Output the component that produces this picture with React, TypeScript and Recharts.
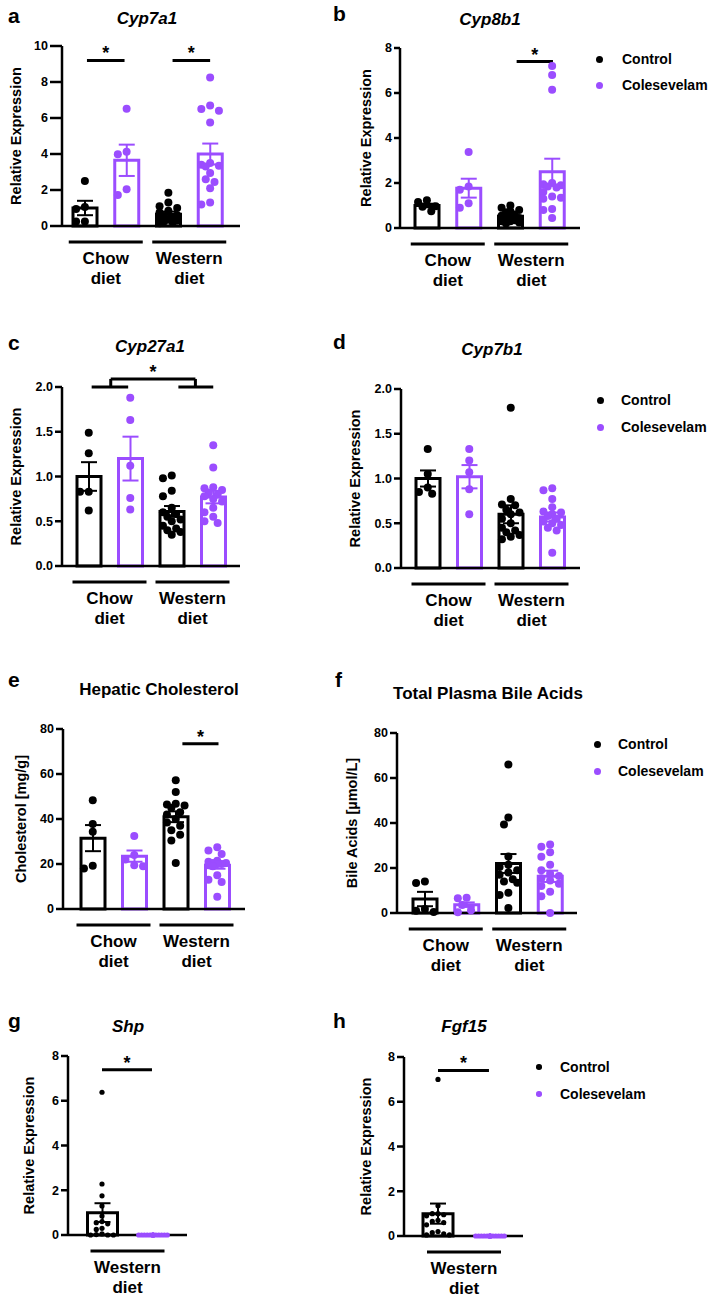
import React from "react";
import {
  ComposedChart,
  Bar,
  Cell,
  ErrorBar,
  Scatter,
  XAxis,
  YAxis,
  ReferenceLine,
  Legend,
} from "recharts";

const INK = "#000000";
const PURPLE = "#9B4DFF";
const FONT = '"Liberation Sans", Arial, Helvetica, sans-serif';

const treatments = ["Control", "Colesevelam"];
const dietGroups = ["Chow diet", "Western diet"];
const westernGroup = ["Western diet"];

const ticks10 = [0, 2, 4, 6, 8, 10];
const ticks8 = [0, 2, 4, 6, 8];
const ticks2 = [0, 0.5, 1, 1.5, 2];
const ticks80 = [0, 20, 40, 60, 80];

// order of groups: chow control, chow colesevelam, western control, western colesevelam
const cyp7a1Means = [1.0, 3.65, 0.65, 4.0];
const cyp7a1Sems = [0.4, 0.87, 0.15, 0.58];
const cyp7a1Points = [
  [2.5, 1.05, 0.95, 0.25, 0.25],
  [6.52, 4.13, 3.98, 2.04, 1.72],
  [1.85, 1.3, 1.1, 1.0, 0.85, 0.75, 0.6, 0.55, 0.5, 0.4, 0.35, 0.3, 0.25, 0.2, 0.15],
  [8.25, 6.7, 6.5, 6.4, 5.75, 3.5, 3.4, 3.35, 3.3, 2.95, 2.6, 2.45, 2.1, 1.3, 1.2],
];

const cyp8b1Means = [1.0, 1.77, 0.52, 2.5];
const cyp8b1Sems = [0.08, 0.42, 0.06, 0.58];
const cyp8b1Points = [
  [1.23, 1.16, 0.97, 0.94, 0.74],
  [3.38, 1.85, 1.7, 1.1, 0.9],
  [1.0, 0.9, 0.8, 0.75, 0.7, 0.6, 0.55, 0.5, 0.45, 0.4, 0.35, 0.3, 0.3, 0.25, 0.2],
  [7.2, 6.8, 6.15, 2.0, 1.95, 1.9, 1.85, 1.8, 1.6, 1.4, 1.35, 1.3, 0.85, 0.8, 0.45],
];

const cyp27a1Means = [1.0, 1.2, 0.61, 0.77];
const cyp27a1Sems = [0.16, 0.245, 0.06, 0.07];
const cyp27a1Points = [
  [1.49, 1.26, 0.83, 0.83, 0.62],
  [1.88, 1.63, 1.12, 0.76, 0.63],
  [1.01, 0.98, 0.84, 0.78, 0.65, 0.6, 0.58, 0.55, 0.52, 0.5, 0.45, 0.42, 0.4, 0.38, 0.35],
  [1.35, 1.1, 0.88, 0.87, 0.85, 0.82, 0.8, 0.78, 0.75, 0.72, 0.65, 0.6, 0.55, 0.5, 0.48],
];

const cyp7b1Means = [1.0, 1.02, 0.6, 0.57];
const cyp7b1Sems = [0.09, 0.13, 0.1, 0.05];
const cyp7b1Points = [
  [1.33, 1.05, 0.9, 0.85, 0.83],
  [1.33, 1.2, 1.07, 0.88, 0.6],
  [1.79, 0.77, 0.71, 0.7, 0.65, 0.62, 0.6, 0.55, 0.5, 0.45, 0.42, 0.4, 0.37, 0.35, 0.32],
  [0.89, 0.87, 0.77, 0.68, 0.63, 0.62, 0.6, 0.58, 0.55, 0.52, 0.5, 0.48, 0.45, 0.42, 0.17],
];

const cholMeans = [31.5, 23.5, 41.0, 19.5];
const cholSems = [5.8, 2.5, 2.4, 1.6];
const cholPoints = [
  [48.3, 37.8, 34.3, 19.2, 18.0],
  [32.4, 24.0, 22.0, 19.5, 19.0],
  [57.2, 52.0, 46.8, 46.5, 46.0, 45.0, 43.0, 42.0, 40.0, 38.5, 37.0, 35.0, 33.0, 30.5, 20.5],
  [27.5, 26.0, 24.5, 21.5, 21.0, 20.5, 20.5, 20.0, 20.0, 19.5, 19.0, 15.0, 13.0, 12.0, 5.5],
];

const bileMeans = [6.2, 3.7, 22.0, 16.3];
const bileSems = [3.2, 1.0, 4.2, 2.5];
const bilePoints = [
  [14.0, 13.3, 1.8, 1.0, 0.5],
  [6.8, 6.6, 3.6, 1.2, 0.3],
  [66.0, 42.4, 39.3, 25.1, 21.5, 20.5, 19.0, 18.0, 17.0, 15.0, 14.0, 13.5, 9.0, 8.0, 2.2],
  [30.5, 29.5, 27.0, 25.0, 21.5, 19.0, 17.5, 16.5, 15.5, 14.5, 13.0, 12.0, 9.5, 7.5, 0.0],
];

// western diet only: control, colesevelam
const shpMeans = [1.0, 0.0];
const shpSems = [0.42, 0];
const shpPoints = [
  [6.38, 2.28, 1.75, 1.3, 0.85, 0.6, 0.55, 0.5, 0.3, 0.25, 0.05, 0.02, 0, 0, 0],
  [0, 0, 0, 0, 0, 0, 0, 0, 0, 0, 0, 0, 0, 0, 0],
];

const fgf15Means = [1.0, 0.0];
const fgf15Sems = [0.45, 0];
const fgf15Points = [
  [7.0, 1.35, 1.0, 1.0, 0.95, 0.9, 0.7, 0.65, 0.6, 0.5, 0.2, 0.15, 0.1, 0.05, 0.05],
  [0, 0, 0, 0, 0, 0, 0, 0, 0, 0, 0, 0, 0, 0, 0],
];

// significance marks: [x1, y1, x2, y2, star]
type Seg = [number, number, number, number, boolean];
const cyp7a1Sig: Seg[] = [
  [0.55, 9.2, 1.45, 9.2, true],
  [2.6, 9.2, 3.5, 9.2, true],
];
const cyp8b1Sig: Seg[] = [[2.65, 7.4, 3.52, 7.4, true]];
const cyp27a1Sig: Seg[] = [
  [0.57, 2.0, 1.45, 2.0, false],
  [2.66, 2.0, 3.5, 2.0, false],
  [1.03, 2.0, 1.03, 2.09, false],
  [3.07, 2.0, 3.07, 2.09, false],
  [1.03, 2.09, 3.07, 2.09, true],
];
const cholSig: Seg[] = [[2.66, 73.5, 3.53, 73.5, true]];
const shpSig: Seg[] = [[0.5, 7.38, 1.48, 7.38, true]];
const fgf15Sig: Seg[] = [[0.5, 7.4, 1.48, 7.4, true]];

interface PanelCfg {
  letter: string;
  title: string;
  italic: boolean;
  yLabel: string;
  means: number[];
  sems: number[];
  points: number[][];
  yTicks: number[];
  decimals: number;
  groups: string[];
  sig: Seg[];
  colLeft: number;
  colW: number;
  axisX: number;
  yTop: number;
  yZero: number;
  xEnd: number;
  padL: number;
  padR: number;
  tickSize: number;
  labelX: number;
  barSize: number;
  dotR: number;
  letterX: number;
  letterY: number;
  titleX: number;
  titleY: number;
  legend?: { dotX: number; textX: number; rowY: number; r: number; gap: number };
}

const panels: PanelCfg[] = [
  {
    letter: "a", title: "Cyp7a1", italic: true, yLabel: "Relative Expression",
    means: cyp7a1Means, sems: cyp7a1Sems, points: cyp7a1Points, yTicks: ticks10, decimals: 0,
    groups: dietGroups, sig: cyp7a1Sig,
    colLeft: 0, colW: 336, axisX: 62, yTop: 46, yZero: 226, xEnd: 240, padL: 2, padR: 9,
    tickSize: 12, labelX: 15.5, barSize: 24, dotR: 4,
    letterX: 8, letterY: 23, titleX: 147, titleY: 23.5,
  },
  {
    letter: "b", title: "Cyp8b1", italic: true, yLabel: "Relative Expression",
    means: cyp8b1Means, sems: cyp8b1Sems, points: cyp8b1Points, yTicks: ticks8, decimals: 0,
    groups: dietGroups, sig: cyp8b1Sig,
    colLeft: 336, colW: 379, axisX: 400, yTop: 48, yZero: 228, xEnd: 580, padL: 6, padR: 7,
    tickSize: 6, labelX: 366, barSize: 24, dotR: 4,
    letterX: 333, letterY: 21, titleX: 490, titleY: 25,
    legend: { dotX: 599, textX: 622, rowY: 59, r: 3.5, gap: 26 },
  },
  {
    letter: "c", title: "Cyp27a1", italic: true, yLabel: "Relative Expression",
    means: cyp27a1Means, sems: cyp27a1Sems, points: cyp27a1Points, yTicks: ticks2, decimals: 1,
    groups: dietGroups, sig: cyp27a1Sig,
    colLeft: 0, colW: 336, axisX: 62, yTop: 387, yZero: 566, xEnd: 240, padL: 6, padR: 6,
    tickSize: 7, labelX: 15.7, barSize: 24, dotR: 4,
    letterX: 8, letterY: 350, titleX: 150, titleY: 352,
  },
  {
    letter: "d", title: "Cyp7b1", italic: true, yLabel: "Relative Expression",
    means: cyp7b1Means, sems: cyp7b1Sems, points: cyp7b1Points, yTicks: ticks2, decimals: 1,
    groups: dietGroups, sig: [],
    colLeft: 336, colW: 379, axisX: 401, yTop: 389, yZero: 568, xEnd: 580, padL: 6, padR: 7,
    tickSize: 7, labelX: 355, barSize: 24, dotR: 4,
    letterX: 333, letterY: 349, titleX: 492, titleY: 355,
    legend: { dotX: 600, textX: 621, rowY: 400, r: 3.5, gap: 27 },
  },
  {
    letter: "e", title: "Hepatic Cholesterol", italic: false, yLabel: "Cholesterol [mg/g]",
    means: cholMeans, sems: cholSems, points: cholPoints, yTicks: ticks80, decimals: 0,
    groups: dietGroups, sig: cholSig,
    colLeft: 0, colW: 336, axisX: 63, yTop: 729, yZero: 909, xEnd: 245, padL: 9, padR: 7,
    tickSize: 7, labelX: 21, barSize: 24, dotR: 4,
    letterX: 8, letterY: 687, titleX: 159, titleY: 695,
  },
  {
    letter: "f", title: "Total Plasma Bile Acids", italic: false, yLabel: "Bile Acids [µmol/L]",
    means: bileMeans, sems: bileSems, points: bilePoints, yTicks: ticks80, decimals: 0,
    groups: dietGroups, sig: [],
    colLeft: 336, colW: 379, axisX: 397, yTop: 733, yZero: 913, xEnd: 577, padL: 7, padR: 6,
    tickSize: 7, labelX: 352, barSize: 24, dotR: 4,
    letterX: 335, letterY: 687, titleX: 488, titleY: 699,
    legend: { dotX: 597, textX: 618, rowY: 744, r: 3.5, gap: 27 },
  },
  {
    letter: "g", title: "Shp", italic: true, yLabel: "Relative Expression",
    means: shpMeans, sems: shpSems, points: shpPoints, yTicks: ticks8, decimals: 0,
    groups: westernGroup, sig: shpSig,
    colLeft: 0, colW: 336, axisX: 68, yTop: 1056, yZero: 1235, xEnd: 187, padL: 8.5, padR: 8.5,
    tickSize: 7, labelX: 29, barSize: 30, dotR: 2.6,
    letterX: 8, letterY: 1028, titleX: 128, titleY: 1032,
  },
  {
    letter: "h", title: "Fgf15", italic: true, yLabel: "Relative Expression",
    means: fgf15Means, sems: fgf15Sems, points: fgf15Points, yTicks: ticks8, decimals: 0,
    groups: westernGroup, sig: fgf15Sig,
    colLeft: 336, colW: 379, axisX: 404, yTop: 1057, yZero: 1236, xEnd: 523, padL: 8, padR: 7,
    tickSize: 7, labelX: 366, barSize: 30, dotR: 2.6,
    letterX: 333, letterY: 1028, titleX: 464, titleY: 1032,
    legend: { dotX: 539, textX: 560, rowY: 1067, r: 2.8, gap: 27 },
  },
];

const TOP_PAD = 40;
const GROUP_H = 70;

// spread overlapping dots sideways, like a column scatter
function spread(values: number[], pxPerY: number, r: number, maxPx: number): number[] {
  const out = values.map(() => 0);
  const placed: { x: number; y: number }[] = [];
  const order = values.map((_, i) => i).sort((a, b) => values[b] - values[a]);
  const minGap = r * 1.9;
  const step = r * 1.1;
  for (const i of order) {
    const y = values[i] * pxPerY;
    let best = 0;
    let bestGap = -1;
    let done = false;
    for (let k = 0; k * step <= maxPx && !done; k++) {
      const cands = k === 0 ? [0] : [-k * step, k * step];
      for (const x of cands) {
        let gap = Infinity;
        for (const q of placed) gap = Math.min(gap, Math.hypot(q.x - x, q.y - y));
        if (gap > bestGap) {
          bestGap = gap;
          best = x;
        }
        if (gap >= minGap) {
          done = true;
          break;
        }
      }
    }
    placed.push({ x: best, y });
    out[i] = best;
  }
  return out;
}

function Panel({ p }: { p: PanelCfg }) {
  const n = p.means.length;
  const plotH = p.yZero - p.yTop;
  const chartTop = p.yTop - TOP_PAD;
  const height = TOP_PAD + plotH + 1 + GROUP_H + 4;
  const bandPx = (p.xEnd - p.axisX - p.padL - p.padR) / n;
  const yMax = p.yTicks[p.yTicks.length - 1];
  const pxPerY = plotH / yMax;
  const zeroY = TOP_PAD + plotH;

  const rows = p.means.map((m, i) => ({
    cat: `g${i}`,
    mean: m,
    ctrlSem: i % 2 === 0 ? p.sems[i] : null,
    colesSem: i % 2 === 1 ? p.sems[i] : null,
  }));

  const ctrlPts: { x: number; y: number }[] = [];
  const colesPts: { x: number; y: number }[] = [];
  p.points.forEach((vals, i) => {
    const offs = spread(vals, pxPerY, p.dotR, p.barSize / 2 + 1);
    vals.forEach((v, k) => {
      const pt = { x: i + 0.5 + offs[k] / bandPx, y: v };
      if (i % 2 === 0) ctrlPts.push(pt);
      else colesPts.push(pt);
    });
  });

  const groupTicks = p.groups.map((_, i) => 2 * i + 1);
  const pad = { left: p.padL, right: p.padR };

  const GroupTick = (props: any) => {
    const { x, payload } = props;
    const idx = Math.round((payload.value - 1) / 2);
    const words = (p.groups[idx] ?? "").split(" ");
    return (
      <g>
        <line x1={x - 37} x2={x + 37} y1={zeroY + 16} y2={zeroY + 16} stroke={INK} strokeWidth={3} />
        {words.map((w: string, k: number) => (
          <text
            key={k}
            x={x}
            y={zeroY + 32 + k * 20}
            textAnchor="middle"
            dominantBaseline="central"
            fontSize={17}
            fontWeight={700}
            fill={INK}
          >
            {w}
          </text>
        ))}
      </g>
    );
  };

  const dot = (color: string) => (props: any) =>
    <circle cx={props.cx} cy={props.cy} r={p.dotR} fill={color} />;

  const labelY = TOP_PAD + plotH / 2;
  const labelX = p.labelX - p.colLeft;

  return (
    <div style={{ position: "absolute", left: p.colLeft, top: chartTop }}>
      <ComposedChart
        width={p.colW}
        height={height}
        data={rows}
        margin={{ top: TOP_PAD, left: 0, right: p.colW - (p.xEnd - p.colLeft), bottom: 4 }}
      >
        <XAxis
          xAxisId="cat"
          dataKey="cat"
          type="category"
          padding={pad}
          height={1}
          tick={false}
          tickLine={false}
          axisLine={{ stroke: INK, strokeWidth: 2.5 }}
        />
        <XAxis
          xAxisId="num"
          dataKey="x"
          type="number"
          domain={[0, n]}
          ticks={groupTicks}
          interval={0}
          padding={pad}
          height={GROUP_H}
          axisLine={false}
          tickLine={false}
          tickSize={0}
          tick={<GroupTick />}
          allowDataOverflow
        />
        <YAxis
          type="number"
          domain={[0, yMax]}
          ticks={p.yTicks}
          interval={0}
          width={p.axisX - p.colLeft}
          tickSize={p.tickSize}
          tickMargin={2}
          tickFormatter={(v: number) => v.toFixed(p.decimals)}
          tick={{ fontSize: 12.5, fontWeight: 700, fill: INK }}
          tickLine={{ stroke: INK, strokeWidth: 2.5 }}
          axisLine={{ stroke: INK, strokeWidth: 2.5 }}
          label={{
            value: p.yLabel,
            content: () => (
              <text
                x={labelX}
                y={labelY}
                transform={`rotate(-90 ${labelX} ${labelY})`}
                textAnchor="middle"
                dominantBaseline="central"
                fontSize={14.5}
                fontWeight={700}
                fill={INK}
              >
                {p.yLabel}
              </text>
            ),
          }}
        />
        <Bar
          xAxisId="cat"
          dataKey="mean"
          barSize={p.barSize}
          fill="#ffffff"
          strokeWidth={3}
          isAnimationActive={false}
        >
          {rows.map((_, i) => (
            <Cell key={i} fill="#ffffff" stroke={i % 2 === 0 ? INK : PURPLE} />
          ))}
          <ErrorBar dataKey="ctrlSem" direction="y" width={8} strokeWidth={2} stroke={INK} />
          <ErrorBar dataKey="colesSem" direction="y" width={8} strokeWidth={2} stroke={PURPLE} />
        </Bar>
        <Scatter
          xAxisId="num"
          name={treatments[0]}
          data={ctrlPts}
          dataKey="y"
          shape={dot(INK)}
          isAnimationActive={false}
        />
        <Scatter
          xAxisId="num"
          name={treatments[1]}
          data={colesPts}
          dataKey="y"
          shape={dot(PURPLE)}
          isAnimationActive={false}
        />
        {p.sig.map(([x1, y1, x2, y2, star], i) => (
          <ReferenceLine
            key={i}
            xAxisId="num"
            segment={[
              { x: x1, y: y1 },
              { x: x2, y: y2 },
            ]}
            stroke={INK}
            strokeWidth={3}
            ifOverflow="visible"
            label={star ? { value: "*", position: "top", offset: 1, fontSize: 18, fontWeight: 700, fill: INK } : undefined}
          />
        ))}
        {p.legend && (
          <Legend
            layout="vertical"
            align="center"
            verticalAlign="middle"
            wrapperStyle={{
              left: p.legend.dotX - p.legend.r - p.colLeft,
              top: p.legend.rowY - p.legend.gap / 2 - chartTop,
              width: 160,
              height: p.legend.gap * 2,
            }}
            content={() => (
              <div style={{ fontFamily: FONT }}>
                {treatments.map((t, i) => (
                  <div key={t} style={{ display: "flex", alignItems: "center", height: p.legend!.gap }}>
                    <span
                      style={{
                        display: "inline-block",
                        width: 2 * p.legend!.r,
                        height: 2 * p.legend!.r,
                        borderRadius: "50%",
                        background: i === 0 ? INK : PURPLE,
                      }}
                    />
                    <span
                      style={{
                        marginLeft: p.legend!.textX - p.legend!.dotX - p.legend!.r,
                        fontSize: 14,
                        fontWeight: 700,
                        color: INK,
                      }}
                    >
                      {t}
                    </span>
                  </div>
                ))}
              </div>
            )}
          />
        )}
      </ComposedChart>
    </div>
  );
}

export default function App() {
  return (
    <div
      style={{
        position: "absolute",
        left: 0,
        top: 0,
        width: 715,
        height: 1299,
        background: "#ffffff",
        fontFamily: FONT,
        overflow: "hidden",
      }}
    >
      {panels.map((p) => (
        <Panel key={p.letter} p={p} />
      ))}
      <svg width={715} height={1299} style={{ position: "absolute", left: 0, top: 0, pointerEvents: "none" }}>
        {panels.map((p) => (
          <g key={p.letter}>
            <text x={p.letterX} y={p.letterY} fontSize={21} fontWeight={700} fill={INK} fontFamily={FONT}>
              {p.letter}
            </text>
            <text
              x={p.titleX}
              y={p.titleY}
              textAnchor="middle"
              fontSize={17}
              fontWeight={700}
              fontStyle={p.italic ? "italic" : "normal"}
              fill={INK}
              fontFamily={FONT}
            >
              {p.title}
            </text>
          </g>
        ))}
      </svg>
    </div>
  );
}
